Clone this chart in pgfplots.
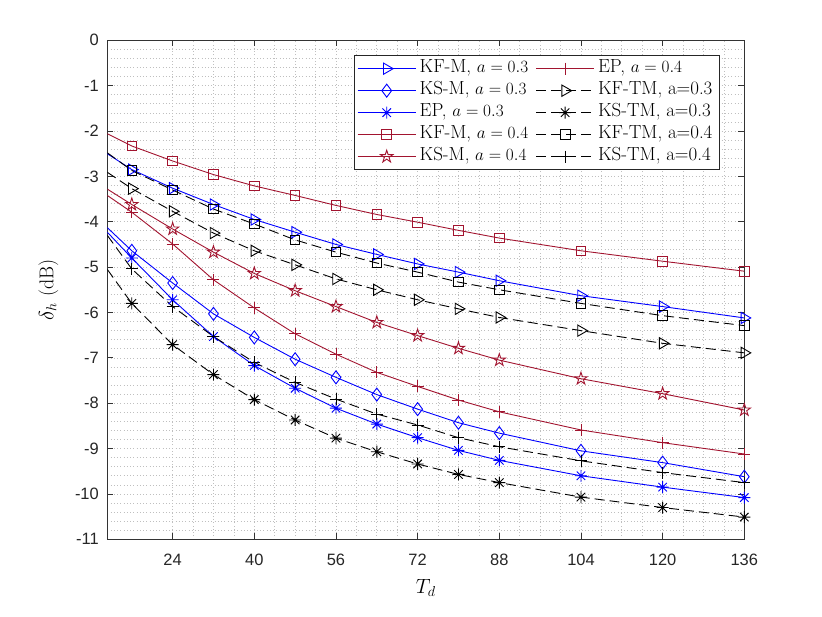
\documentclass[border=0pt]{standalone}
\usepackage{fontspec}
\usepackage{pgfplots}
\usepackage{pgfplotstable}
\pgfplotsset{compat=1.18}
\newfontfamily\arial{Liberation Sans}
\definecolor{mred}{rgb}{0.635,0.078,0.184}
\definecolor{mblue}{rgb}{0,0,1}

\pgfdeclareplotmark{pentagram}{%
  \pgfpathmoveto{\pgfpointpolar{90}{\pgfplotmarksize}}%
  \pgfpathlineto{\pgfpointpolar{126}{0.382\pgfplotmarksize}}%
  \pgfpathlineto{\pgfpointpolar{162}{\pgfplotmarksize}}%
  \pgfpathlineto{\pgfpointpolar{198}{0.382\pgfplotmarksize}}%
  \pgfpathlineto{\pgfpointpolar{234}{\pgfplotmarksize}}%
  \pgfpathlineto{\pgfpointpolar{270}{0.382\pgfplotmarksize}}%
  \pgfpathlineto{\pgfpointpolar{306}{\pgfplotmarksize}}%
  \pgfpathlineto{\pgfpointpolar{342}{0.382\pgfplotmarksize}}%
  \pgfpathlineto{\pgfpointpolar{18}{\pgfplotmarksize}}%
  \pgfpathlineto{\pgfpointpolar{54}{0.382\pgfplotmarksize}}%
  \pgfpathclose
  \pgfusepathqstroke
}
\pgfdeclareplotmark{matast}{%
  \pgfpathmoveto{\pgfqpoint{-\pgfplotmarksize}{0pt}}%
  \pgfpathlineto{\pgfqpoint{\pgfplotmarksize}{0pt}}%
  \pgfpathmoveto{\pgfqpoint{0pt}{-\pgfplotmarksize}}%
  \pgfpathlineto{\pgfqpoint{0pt}{\pgfplotmarksize}}%
  \pgfpathmoveto{\pgfqpoint{-0.707\pgfplotmarksize}{-0.707\pgfplotmarksize}}%
  \pgfpathlineto{\pgfqpoint{0.707\pgfplotmarksize}{0.707\pgfplotmarksize}}%
  \pgfpathmoveto{\pgfqpoint{-0.707\pgfplotmarksize}{0.707\pgfplotmarksize}}%
  \pgfpathlineto{\pgfqpoint{0.707\pgfplotmarksize}{-0.707\pgfplotmarksize}}%
  \pgfusepathqstroke
}

\pgfplotstableread{
x     kfmA   ksmA   epA    kfmB   ksmB   epB    kftmA  kstmA  kftmB  kstmB
11.2  -2.50  -4.13  -4.23  -2.06  -3.28  -3.42  -2.91  -5.05  -2.48  -4.30
16    -2.85  -4.64  -4.80  -2.33  -3.62  -3.79  -3.27  -5.80  -2.87  -5.04
24    -3.26  -5.35  -5.72  -2.66  -4.16  -4.49  -3.77  -6.71  -3.30  -5.87
32    -3.62  -6.03  -6.53  -2.96  -4.67  -5.28  -4.25  -7.37  -3.72  -6.53
40    -3.95  -6.55  -7.17  -3.21  -5.14  -5.90  -4.64  -7.92  -4.05  -7.10
48    -4.23  -7.03  -7.67  -3.42  -5.52  -6.47  -4.95  -8.37  -4.40  -7.54
56    -4.50  -7.43  -8.11  -3.64  -5.87  -6.92  -5.26  -8.77  -4.67  -7.91
64    -4.72  -7.81  -8.46  -3.84  -6.22  -7.32  -5.50  -9.07  -4.91  -8.24
72    -4.93  -8.13  -8.76  -4.01  -6.51  -7.63  -5.72  -9.34  -5.11  -8.48
80    -5.11  -8.43  -9.04  -4.19  -6.79  -7.93  -5.92  -9.57  -5.33  -8.76
88    -5.30  -8.66  -9.26  -4.36  -7.05  -8.19  -6.11  -9.75  -5.50  -8.96
104   -5.63  -9.05  -9.60  -4.64  -7.46  -8.59  -6.40  -10.07 -5.80  -9.27
120   -5.87  -9.31  -9.85  -4.87  -7.79  -8.87  -6.68  -10.30 -6.07  -9.53
136   -6.12  -9.62  -10.08 -5.09  -8.15  -9.12  -6.89  -10.51 -6.29  -9.75
}\datatable

\begin{document}
\begin{tikzpicture}
\begin{axis}[
  scale only axis, width=637bp, height=499bp,
  xmin=11.2, xmax=136, ymin=-11, ymax=0,
  xtick={24,40,56,72,88,104,120,136},
  xticklabels={24,40,56,72,88,104,120,136},
  ytick={-11,-10,-9,-8,-7,-6,-5,-4,-3,-2,-1,0},
  yticklabels={-11,-10,-9,-8,-7,-6,-5,-4,-3,-2,-1,0},
  minor x tick num=3, minor y tick num=4,
  grid=both,
  major grid style={black!25, line width=0.65bp, dash pattern=on 0.65bp off 2.6bp},
  minor grid style={black!25, line width=0.65bp, dash pattern=on 0.65bp off 2.6bp},
  tick align=inside, major tick length=6bp, minor tick length=0pt,
  axis line style={black!80, line width=0.8bp},
  every tick/.style={black!80, line width=0.8bp},
  tick label style={font=\arial\fontsize{16.5}{18}\selectfont, text=black!85},
  xticklabel style={yshift=-11bp},
  yticklabel style={xshift=-5bp},
  xlabel={$T_d$}, ylabel={$\delta_h$ (dB)},
  xlabel style={font=\fontsize{20}{24}\selectfont, at={(axis description cs:0.5,-0.098)}, anchor=center},
  ylabel style={font=\fontsize{20}{24}\selectfont, at={(axis description cs:-0.0926,0.5)}, anchor=center},
  legend columns=2,
  legend cell align=left,
  legend style={at={(0.9608,0.970)}, anchor=north east, draw=black!85,
    line width=0.8bp, fill=white, font=\fontsize{19}{23}\selectfont,
    inner xsep=3bp, inner ysep=2bp,
    nodes={text height=12bp, text depth=4bp, inner ysep=3bp, inner xsep=3.5bp},
    /tikz/every even column/.append style={column sep=4bp}},
  legend image code/.code={\draw[#1, mark indices={2}] plot coordinates {(0bp,0bp)(29bp,0bp)(58bp,0bp)};},
  every axis plot/.append style={line width=0.9bp, mark indices={2,...,14}},
]
\addplot[mblue, mark=triangle, mark size=6.5bp, mark options={rotate=270}] table[x=x,y=kfmA]{\datatable};
\addlegendentry{KF-M, $a=0.3$}
\addplot[mred, mark=+, mark size=6bp] table[x=x,y=epB]{\datatable};
\addlegendentry{EP, $a=0.4$}
\addplot[mblue, mark=diamond, mark size=6.5bp] table[x=x,y=ksmA]{\datatable};
\addlegendentry{KS-M, $a=0.3$}
\addplot[black, dash pattern=on 10bp off 5bp, mark=triangle, mark size=6.5bp, mark options={solid, rotate=270}] table[x=x,y=kftmA]{\datatable};
\addlegendentry{KF-TM, a=0.3}
\addplot[mblue, mark=matast, mark size=6bp] table[x=x,y=epA]{\datatable};
\addlegendentry{EP, $a=0.3$}
\addplot[black, dash pattern=on 10bp off 5bp, mark=matast, mark size=6bp, mark options={solid}] table[x=x,y=kstmA]{\datatable};
\addlegendentry{KS-TM, a=0.3}
\addplot[mred, mark=square, mark size=4.8bp] table[x=x,y=kfmB]{\datatable};
\addlegendentry{KF-M, $a=0.4$}
\addplot[black, dash pattern=on 10bp off 5bp, mark=square, mark size=4.8bp, mark options={solid}] table[x=x,y=kftmB]{\datatable};
\addlegendentry{KF-TM, a=0.4}
\addplot[mred, mark=pentagram, mark size=6.5bp] table[x=x,y=ksmB]{\datatable};
\addlegendentry{KS-M, $a=0.4$}
\addplot[black, dash pattern=on 10bp off 5bp, mark=+, mark size=6bp, mark options={solid}] table[x=x,y=kstmB]{\datatable};
\addlegendentry{KS-TM, a=0.4}
\end{axis}
\pgfresetboundingbox
\path (current axis.south west) ++(-107.3bp,-77.7bp) rectangle ++(822bp,617bp);
\end{tikzpicture}
\end{document}
